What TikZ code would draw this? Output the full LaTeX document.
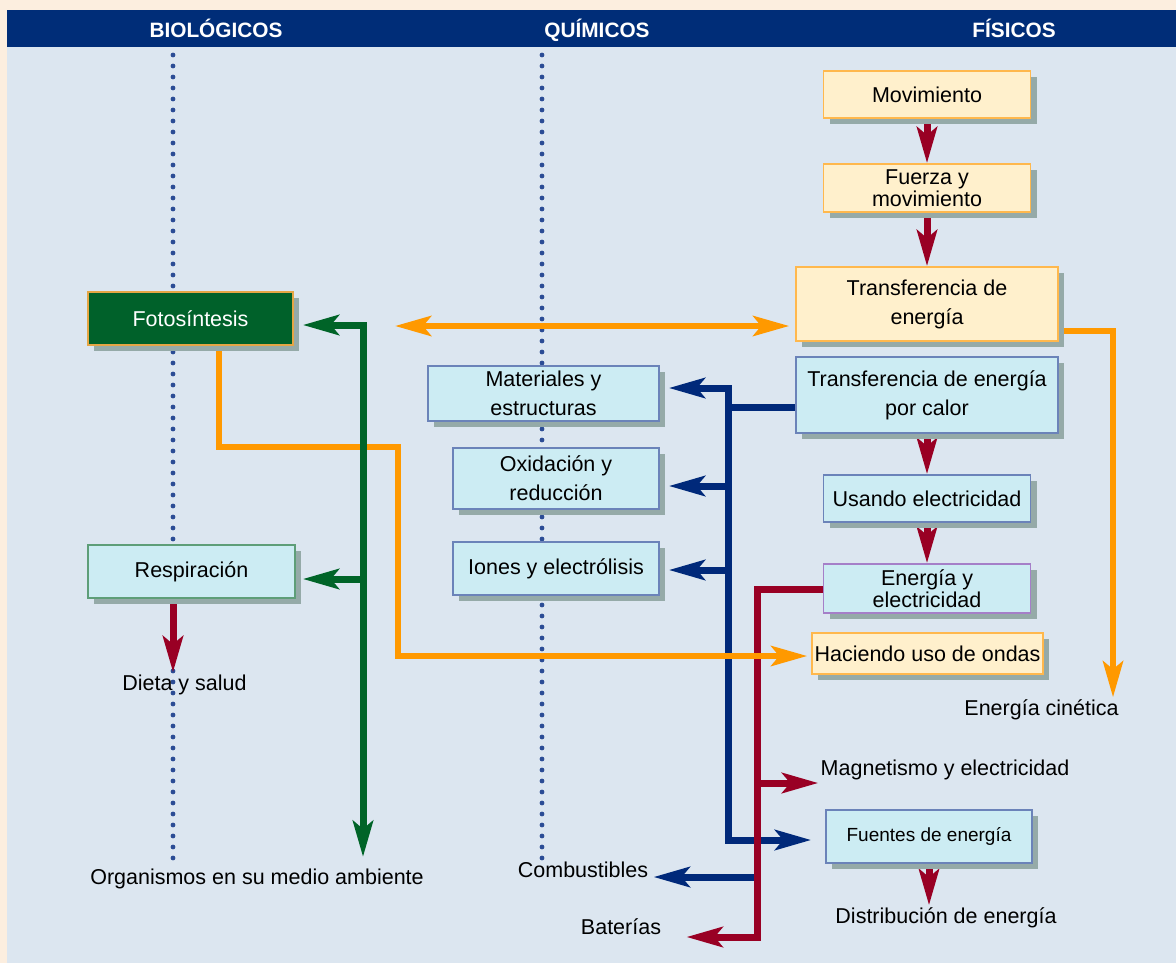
\documentclass[tikz,border=0pt]{standalone}
\usepackage{fontspec}
\setmainfont{Liberation Sans}
\usepackage{tikz}
\usetikzlibrary{
  arrows.meta,
  positioning,
  calc,
  backgrounds,
  shadows
}
\definecolor{ccNavy}{HTML}{002D78}
\definecolor{ccPage}{HTML}{DCE6F0}
\definecolor{ccBeige}{HTML}{FCEEDF}
\definecolor{ccCyan}{HTML}{CCECF3}
\definecolor{ccCyanEdge}{HTML}{6B83B9}
\definecolor{ccCream}{HTML}{FFF0CC}
\definecolor{ccCreamEdge}{HTML}{FFB84D}
\definecolor{ccLeaf}{HTML}{00612A}
\definecolor{ccMint}{HTML}{5E9E78}
\definecolor{ccLilac}{HTML}{A57FC8}
\definecolor{ccShade}{HTML}{95AAA8}
\definecolor{ccMaroon}{HTML}{990024}
\definecolor{ccBlue}{HTML}{00297A}
\definecolor{ccGreen}{HTML}{006428}
\definecolor{ccOrange}{HTML}{FF9900}
\definecolor{ccDot}{HTML}{2B4C95}
\newcommand{\ccfont}{\fontsize{10.75pt}{14.5pt}\selectfont}
\newcommand{\cctight}{\fontsize{10.75pt}{11.25pt}\selectfont}
\tikzset{
  ccnode/.style={
    draw, line width=0.75pt, inner sep=0pt, align=center, font=\ccfont,
    drop shadow={shadow xshift=3pt, shadow yshift=-3pt, fill=ccShade, opacity=1}
  },
  quibox/.style={ccnode, fill=ccCyan, draw=ccCyanEdge},
  fisbox/.style={ccnode, fill=ccCream, draw=ccCreamEdge},
  biobox/.style={ccnode, fill=ccLeaf, draw=ccCreamEdge!90!black, text=white},
  tag/.style={font=\ccfont, inner sep=1pt, text height=8pt, text depth=2.3pt},
  head/.style={font=\fontsize{10.4pt}{12pt}\selectfont\bfseries, text=white, inner sep=1pt, anchor=base},
  dotline/.style={ccDot, line width=2.4pt, line cap=round, dash pattern=on 0pt off 5.5pt},
  redpipe/.style={line width=3.5pt, ccMaroon},
  bluepipe/.style={line width=3.5pt, ccBlue},
  greenpipe/.style={line width=3.5pt, ccGreen},
  orangepipe/.style={line width=3.2pt, ccOrange}
}

\begin{document}
\begin{tikzpicture}[x=0.5pt, y=-0.5pt, >={Stealth[length=18pt, width=10pt, inset=4pt]}]
  \useasboundingbox (0,0) rectangle (1176,963);
  \begin{scope}[on background layer]
    \fill[ccBeige] (0,0) rectangle (1176,963);
    \fill[ccPage] (7,10) rectangle (1176,963);
    \fill[ccNavy] (7,10) rectangle (1176,47);
    \draw[dotline] (173,55) -- (173,862);
    \draw[dotline] (542,55) -- (542,862);
  \end{scope}

  \node[head] (hbio) at (216,38) {BIOLÓGICOS};
  \node[head] (hqui) at (597,38) {QUÍMICOS};
  \node[head] (hfis) at (1014,38) {FÍSICOS};

  \node[fisbox, minimum width=103.5pt, minimum height=23.5pt] (mov) at (927,94.5) {Movimiento};
  \node[fisbox, minimum width=103.5pt, minimum height=24pt, font=\cctight] (fuerza) at (927,188) {Fuerza y\\movimiento};
  \node[fisbox, minimum width=131pt, minimum height=37pt] (transf) at (927,304) {Transferencia de\\energía};
  \node[quibox, minimum width=131pt, minimum height=38pt] (calor) at (927,395) {Transferencia de energía\\por calor};
  \node[quibox, minimum width=103.5pt, minimum height=23.5pt] (usando) at (927,498.5) {Usando electricidad};
  \node[quibox, draw=ccLilac, minimum width=103.5pt, minimum height=24.5pt, font=\cctight] (enelec) at (927,588.5) {Energía y\\electricidad};
  \node[fisbox, minimum width=115.5pt, minimum height=20.5pt] (ondas) at (927.5,653.5) {Haciendo uso de ondas};
  \node[quibox, minimum width=103pt, minimum height=26.5pt, font=\fontsize{9.5pt}{11pt}\selectfont] (fuentes) at (929,836.5) {Fuentes de energía};

  \node[quibox, minimum width=115.5pt, minimum height=27.5pt] (mat) at (543.5,393.5) {Materiales y\\estructuras};
  \node[quibox, minimum width=103pt, minimum height=30.5pt] (oxid) at (556,478.5) {Oxidación y\\reducción};
  \node[quibox, minimum width=103pt, minimum height=26.5pt] (iones) at (556,568.5) {Iones y electrólisis};

  \node[biobox, minimum width=102.5pt, minimum height=26.5pt] (foto) at (190.5,318.5) {Fotosíntesis};
  \node[quibox, draw=ccMint, minimum width=103.5pt, minimum height=26.5pt] (resp) at (191.5,571.5) {Respiración};

  \node[tag] (dieta) at (184.5,685) {Dieta y salud};
  \node[tag] (organ) at (257,879) {Organismos en su medio ambiente};
  \node[tag] (combust) at (583,872) {Combustibles};
  \node[tag] (bater) at (621,929) {Baterías};
  \node[tag] (magnet) at (945,770) {Magnetismo y electricidad};
  \node[tag] (distrib) at (946,918) {Distribución de energía};
  \node[tag] (cinet) at (1041.5,710) {Energía cinética};

  \coordinate (bj) at (728,407);
  \coordinate (bt) at (728,388);
  \coordinate (b2) at (728,486);
  \coordinate (b3) at (728,570);
  \coordinate (bb) at (728,840);
  \coordinate (rc) at (757,877);
  \coordinate (rt) at (757,589);
  \coordinate (rm) at (757,783);
  \coordinate (rb) at (757,937);
  \coordinate (gt) at (363,325);
  \coordinate (g2) at (363,579);
  \coordinate (gb) at (363,857);
  \coordinate (o1) at (219,447);
  \coordinate (o2) at (398,447);
  \coordinate (o3) at (398,656);
  \coordinate (oc) at (1113,331);
  \coordinate (dl) at (395,326);
  \coordinate (bioX) at (173,0);

  \begin{scope}[on background layer]
    \draw[bluepipe] (calor.west |- bj) -- (bj);
    \draw[bluepipe, <->, shorten <=4.5pt, shorten >=7pt] (mat.east |- bt) -- (bt) -- (bb) -- (fuentes.west |- bb);
    \draw[bluepipe, ->, shorten >=4.5pt] (b2) -- (b2 -| oxid.east);
    \draw[bluepipe, ->, shorten >=4.5pt] (b3) -- (b3 -| iones.east);
    \draw[bluepipe, ->, shorten >=1.5pt] (rc) -- (rc -| combust.east);

    \draw[redpipe, ->, shorten >=11.5pt] (enelec.west |- rt) -- (rt) -- (rb) -- (rb -| bater.east);
    \draw[redpipe, ->] (rm) -- (rm -| magnet.west);
    \draw[redpipe, ->] (mov) -- (fuerza);
    \draw[redpipe, ->] (fuerza) -- (transf);
    \draw[redpipe, ->] (calor) -- (usando);
    \draw[redpipe, ->] (usando) -- (enelec);
    \draw[redpipe, ->] (fuentes.south) -- (fuentes.south |- distrib.north);
    \draw[redpipe, ->] (resp.south -| bioX) -- (dieta.north -| bioX);

    \draw[orangepipe, ->, shorten >=2pt] (foto.south -| o1) -- (o1) -- (o2) -- (o3) -- (o3 -| ondas.west);
    \draw[orangepipe, ->] (transf.east |- oc) -- (oc) -- (oc |- cinet.north);
    \draw[orangepipe, <->, shorten >=3pt] (dl) -- (dl -| transf.west);

    \draw[greenpipe, <->, shorten <=4.5pt] (gt -| foto.east) -- (gt) -- (gb);
    \draw[greenpipe, ->, shorten >=3.5pt] (g2) -- (g2 -| resp.east);
  \end{scope}
\end{tikzpicture}
\end{document}
